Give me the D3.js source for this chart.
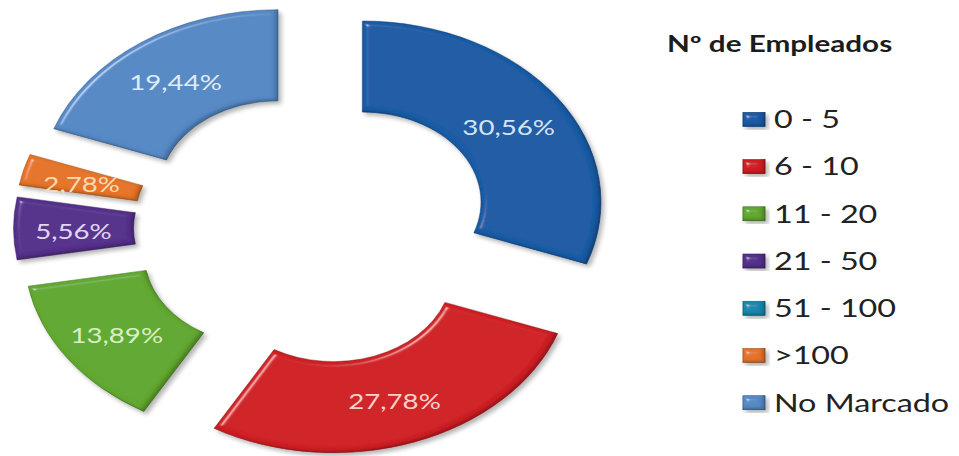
<!DOCTYPE html>
<html>
<head>
<meta charset="utf-8">
<script src="https://cdn.jsdelivr.net/npm/d3@7"></script>
<style>
  html, body { margin: 0; padding: 0; background: #ffffff; }
  svg { display: block; }
</style>
</head>
<body>
<svg id="chart" width="959" height="456"></svg>
<script>
// Employee-count categories and their share of respondents (%)
const categories = ["0 - 5", "6 - 10", "11 - 20", "21 - 50", "51 - 100", ">100", "No Marcado"];
const values = [30.56, 27.78, 13.89, 5.56, 0, 2.78, 19.44];
const labels = ["30,56%", "27,78%", "13,89%", "5,56%", "0,00%", "2,78%", "19,44%"];
const colors = ["#1b5ba5", "#cf2226", "#62a832", "#56338c", "#1a88ad", "#e5742a", "#5689c5"];
const labelColors = ["#d3e4f6", "#f7d2c9", "#d6f0c2", "#e0d6f2", "#d4eef7", "#f7dab4", "#deebf8"];
const legendTitle = "Nº de Empleados";

const W = 959, H = 456;
const SX = 1.318;            // the whole drawing is widened horizontally
const cx = 312.7 / SX, cy = 228.4;
const rInner = 90, rOuter = 181, explode = 46;

const svg = d3.select("#chart");
const defs = svg.append("defs");

// bevel: edge highlight, inner edge shading and a soft drop shadow
const f = defs.append("filter").attr("id", "bevel")
  .attr("x", "-20%").attr("y", "-20%").attr("width", "140%").attr("height", "140%");
f.append("feGaussianBlur").attr("in", "SourceAlpha").attr("stdDeviation", 2.5).attr("result", "blur");
const spec = f.append("feSpecularLighting").attr("in", "blur")
  .attr("surfaceScale", 3).attr("specularConstant", 0.4).attr("specularExponent", 90)
  .attr("lighting-color", "#ffffff").attr("result", "spec");
spec.append("feDistantLight").attr("azimuth", 235).attr("elevation", 50);
f.append("feComposite").attr("in", "spec").attr("in2", "SourceAlpha").attr("operator", "in").attr("result", "specIn");
// inner shade along the lower/right edges
f.append("feOffset").attr("in", "SourceAlpha").attr("dx", -2).attr("dy", -2.5).attr("result", "ioff");
f.append("feGaussianBlur").attr("in", "ioff").attr("stdDeviation", 1.6).attr("result", "iblur");
f.append("feComposite").attr("in", "SourceAlpha").attr("in2", "iblur")
  .attr("operator", "arithmetic").attr("k1", 0).attr("k2", 1).attr("k3", -1).attr("k4", 0).attr("result", "iedge");
f.append("feFlood").attr("flood-color", "#000000").attr("flood-opacity", 0.45).attr("result", "dark");
f.append("feComposite").attr("in", "dark").attr("in2", "iedge").attr("operator", "in").attr("result", "ishade");
f.append("feComposite").attr("in", "SourceGraphic").attr("in2", "specIn")
  .attr("operator", "arithmetic").attr("k1", 0).attr("k2", 1).attr("k3", 1).attr("k4", 0).attr("result", "lit");
f.append("feGaussianBlur").attr("in", "SourceAlpha").attr("stdDeviation", 2.2).attr("result", "sb");
f.append("feOffset").attr("in", "sb").attr("dx", 2).attr("dy", 3).attr("result", "so");
const ct = f.append("feComponentTransfer").attr("in", "so").attr("result", "sh");
ct.append("feFuncA").attr("type", "linear").attr("slope", 0.3);
const fm = f.append("feMerge");
fm.append("feMergeNode").attr("in", "sh");
fm.append("feMergeNode").attr("in", "lit");
fm.append("feMergeNode").attr("in", "ishade");

const root = svg.append("g").attr("transform", `scale(${SX},1)`);

const pie = d3.pie().sort(null).value(d => d.value).startAngle(0).endAngle(2 * Math.PI);
const arc = d3.arc().innerRadius(rInner).outerRadius(rOuter);
const data = categories.map((c, i) => ({ cat: c, value: values[i], label: labels[i], color: colors[i], lc: labelColors[i] }));
const arcs = pie(data).filter(a => a.data.value > 0);

const donut = root.append("g").attr("transform", `translate(${cx},${cy})`);

const slice = donut.selectAll("g.slice").data(arcs).join("g")
  .attr("class", "slice")
  .attr("transform", a => {
    const m = (a.startAngle + a.endAngle) / 2;
    return `translate(${explode * Math.sin(m)},${-explode * Math.cos(m)})`;
  });

slice.append("path")
  .attr("d", arc)
  .attr("fill", a => a.data.color)
  .attr("stroke", a => d3.color(a.data.color).darker(1.2))
  .attr("stroke-width", 0.7)
  .attr("stroke-opacity", 0.6)
  .attr("filter", "url(#bevel)");

slice.append("text")
  .attr("transform", a => `translate(${arc.centroid(a)})`)
  .attr("dy", "0.5em")
  .attr("text-anchor", "middle")
  .attr("font-family", "Lato, 'Open Sans', sans-serif")
  .attr("font-size", 21)
  .attr("fill", a => a.data.lc)
  .text(a => a.data.label);

// legend
const legend = root.append("g");
legend.append("text")
  .attr("x", 506).attr("y", 52)
  .attr("font-family", "Lato, 'Open Sans', sans-serif")
  .attr("font-weight", "bold")
  .attr("font-size", 22.5)
  .attr("fill", "#1c1c1c")
  .text(legendTitle);

const ly = d3.scalePoint().domain(categories).range([119.3, 402.7]);
const item = legend.selectAll("g.item").data(data).join("g")
  .attr("class", "item")
  .attr("transform", d => `translate(563.7,${ly(d.cat)})`);
item.append("rect")
  .attr("x", 0).attr("y", -7).attr("width", 16.7).attr("height", 14)
  .attr("fill", d => d.color)
  .attr("stroke", d => d3.color(d.color).darker(1))
  .attr("stroke-width", 0.6)
  .attr("filter", "url(#bevel)");
item.append("text")
  .attr("x", 23.5).attr("dy", "0.36em")
  .attr("font-family", "Lato, 'Open Sans', sans-serif")
  .attr("font-size", 24.5)
  .attr("fill", "#222222")
  .text(d => d.cat);
</script>
</body>
</html>
